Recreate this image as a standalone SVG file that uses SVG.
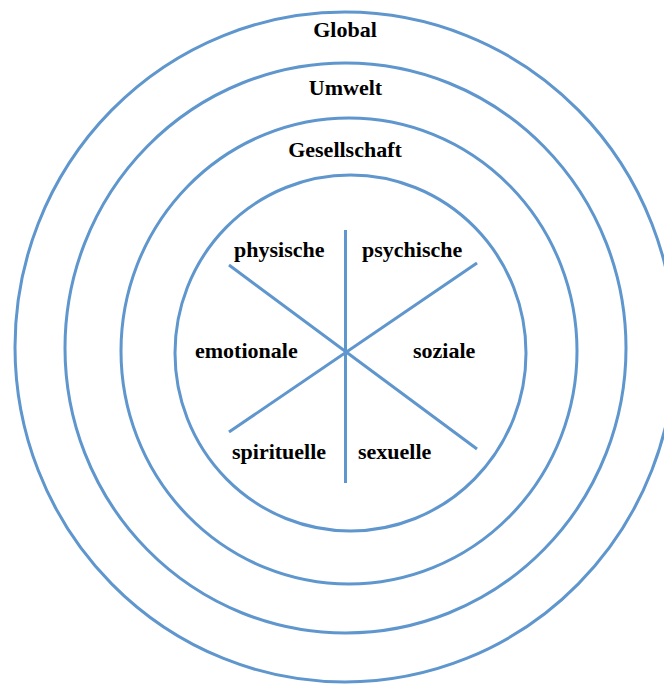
<svg xmlns="http://www.w3.org/2000/svg" width="664" height="684" viewBox="0 0 664 684">
  <style>
    .ring { fill: none; stroke: #5e96cd; stroke-width: 3; }
    .spoke { fill: none; stroke: #5e96cd; stroke-width: 3; stroke-linecap: butt; }
    .label { font-family: "Liberation Serif", "Times New Roman", serif; font-weight: bold; font-size: 22px; fill: #000; }
  </style>
  <rect width="664" height="684" fill="#ffffff"/>

  <!-- concentric spheres -->
  <g id="global">
    <ellipse class="ring" cx="345" cy="347" rx="330" ry="335"/>
    <text class="label" x="345" y="37" text-anchor="middle">Global</text>
  </g>
  <g id="umwelt">
    <ellipse class="ring" cx="345.5" cy="348" rx="280.5" ry="285"/>
    <text class="label" x="345.5" y="95" text-anchor="middle">Umwelt</text>
  </g>
  <g id="gesellschaft">
    <ellipse class="ring" cx="349" cy="351" rx="228" ry="233"/>
    <text class="label" x="345" y="157" text-anchor="middle">Gesellschaft</text>
  </g>
  <g id="individuum">
    <ellipse class="ring" cx="350.5" cy="353" rx="175.5" ry="178"/>
  </g>

  <!-- dividing spokes of the inner circle -->
  <g id="connectors">
    <line class="spoke" x1="345.5" y1="230" x2="345.5" y2="483"/>
    <line class="spoke" x1="229" y1="265" x2="477" y2="449"/>
    <line class="spoke" x1="477" y1="263" x2="229" y2="432"/>
  </g>

  <!-- dimensions -->
  <g id="physische"><text class="label" x="234" y="257">physische</text></g>
  <g id="psychische"><text class="label" x="362" y="257">psychische</text></g>
  <g id="emotionale"><text class="label" x="195" y="358">emotionale</text></g>
  <g id="soziale"><text class="label" x="413" y="358">soziale</text></g>
  <g id="spirituelle"><text class="label" x="232" y="459">spirituelle</text></g>
  <g id="sexuelle"><text class="label" x="358" y="459">sexuelle</text></g>
</svg>
